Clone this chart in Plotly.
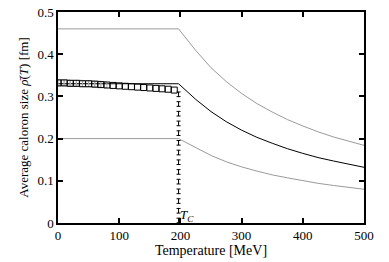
import plotly.graph_objects as go

# Data
T_flat = [0, 197]
T_hot = [197, 225, 250, 275, 300, 325, 350, 375, 400, 425, 450, 475, 500]
upper_flat = [0.460, 0.460]
upper_hot = [0.460, 0.409, 0.368, 0.335, 0.307, 0.283, 0.263, 0.245, 0.230, 0.216, 0.204, 0.194, 0.184]
mid_flat = [0.330, 0.330]
mid_hot = [0.330, 0.293, 0.264, 0.240, 0.220, 0.203, 0.189, 0.176, 0.165, 0.155, 0.147, 0.139, 0.132]
lower_flat = [0.200, 0.200]
lower_hot = [0.200, 0.178, 0.160, 0.145, 0.133, 0.123, 0.114, 0.107, 0.100, 0.094, 0.089, 0.084, 0.080]

T_sq = [0, 10, 20, 30, 40, 50, 60, 70, 80, 90, 100, 110, 120, 130, 140, 150, 160, 170, 180, 190]
rho_sq = [0.332, 0.332, 0.331, 0.331, 0.330, 0.330, 0.329, 0.328, 0.327, 0.326,
          0.325, 0.324, 0.323, 0.322, 0.321, 0.320, 0.319, 0.318, 0.317, 0.315]
T_sq2 = [5, 15, 25, 35, 45, 55, 65, 75]
rho_sq2 = [0.332, 0.332, 0.331, 0.331, 0.330, 0.330, 0.329, 0.328]

Tc = 197
tc_marks = [0.006, 0.029, 0.052, 0.075, 0.098, 0.121, 0.144, 0.167, 0.190, 0.213, 0.236, 0.259, 0.282, 0.305]

x_ticks = [0, 100, 200, 300, 400, 500]
y_ticks = [0, 0.1, 0.2, 0.3, 0.4, 0.5]

FONT = "Liberation Serif"

fig = go.Figure()
gray = "#9a9a9a"
for xs, ys, col in [(T_flat, upper_flat, gray), (T_hot, upper_hot, gray),
                    (T_flat, lower_flat, gray), (T_hot, lower_hot, gray),
                    (T_flat, mid_flat, "black"), (T_hot, mid_hot, "black")]:
    fig.add_trace(go.Scatter(x=xs, y=ys, mode="lines", line=dict(color=col, width=1), showlegend=False))

fig.add_trace(go.Scatter(x=T_sq2, y=rho_sq2, mode="markers",
                         marker=dict(symbol="square-open", size=6, color="#aaaaaa", line=dict(width=1)),
                         showlegend=False))
fig.add_trace(go.Scatter(x=T_sq, y=rho_sq, mode="markers",
                         marker=dict(symbol="square-open", size=6, color="black", line=dict(width=1)),
                         showlegend=False))

fig.add_trace(go.Scatter(x=[Tc] * len(tc_marks), y=tc_marks, mode="markers",
                         marker=dict(size=1, color="rgba(0,0,0,0)"),
                         error_y=dict(type="constant", value=0.0055, color="black", thickness=1, width=2),
                         showlegend=False))

fig.add_annotation(x=Tc, y=0.0, xanchor="left", yanchor="bottom", showarrow=False,
                   text="<i>T</i><sub><i>C</i></sub>", font=dict(size=13, color="black", family=FONT),
                   xshift=-1, yshift=-3)

axis_common = dict(showline=True, linecolor="black", linewidth=1.5, mirror="allticks",
                   ticks="inside", ticklen=5, tickwidth=1.5, tickcolor="black",
                   showgrid=False, zeroline=False, ticklabeloverflow="allow",
                   tickfont=dict(family=FONT, size=13, color="black"))
fig.update_xaxes(range=[0, 500], tickvals=x_ticks, ticktext=[str(v) for v in x_ticks],
                 title=dict(text="Temperature [MeV]", standoff=2,
                            font=dict(family=FONT, size=14, color="black")),
                 **axis_common)
fig.update_yaxes(range=[0, 0.5], tickvals=y_ticks, ticktext=["0", "0.1", "0.2", "0.3", "0.4", "0.5"],
                 title=dict(text="Average caloron size <i>ρ̄</i>(<i>T</i>) [fm]", standoff=6,
                            font=dict(family=FONT, size=13, color="black")),
                 **axis_common)
fig.update_layout(width=389, height=262, margin=dict(l=58, r=25, t=5, b=39),
                  plot_bgcolor="white", paper_bgcolor="white")
fig.write_html("out.html", config={"displayModeBar": False},
               post_script="document.body.style.margin='0';")
